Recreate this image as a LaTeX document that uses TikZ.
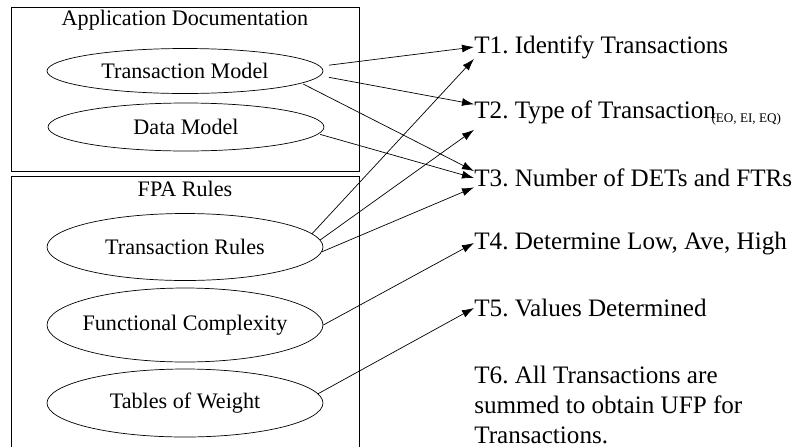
\documentclass[tikz,border=0pt]{standalone}
\usepackage{fontspec}
\setmainfont{Liberation Serif}
\usetikzlibrary{shapes.geometric,arrows.meta}

\begin{document}
\frenchspacing
\begin{tikzpicture}[x=0.02cm, y=-0.02cm, thin, font=\fontsize{12.6}{16}\selectfont,
		main/.style = {draw, ellipse, inner ysep=0pt, inner xsep=-1cm, minimum width=5.52cm},
		task/.style = {anchor=west, inner sep=0pt, font=\fontsize{14.3}{17}\selectfont},
		arr/.style = {-{Latex[length=2.4mm,width=1.6mm]}}]
		\useasboundingbox (0,0) rectangle (807,447);
		% boxes
		\draw (11,7) rectangle (359,171);
		\draw (11,447) -- (11,176) -- (359,176) -- (359,447);
		\node (doc) at (185,20) {Application Documentation};
		\node (fpa) at (185,189) {FPA Rules};
		
		\node[main, minimum height=0.9cm] (tm) at (185,71) {Transaction Model};
		\node[main, minimum height=0.96cm] (dm) at (186,127) {Data Model};
		\node[main, minimum height=1.34cm] (tr) at (185,247) {Transaction Rules};
		\node[main, minimum height=1.48cm] (fc) at (185,325) {Functional Complexity};
		\node[main, minimum height=1.36cm] (tw) at (185,403) {Tables of Weight};
		
		\node[task] (t1) at (474,47) {T1. Identify Transactions};
		\node[task] (t2) at (474,113) {T2. Type of Transaction\kern-2.5pt\raisebox{-2.5pt}{\fontsize{7.5}{8}\selectfont (EO, EI, EQ)}};
		\node[task] (t3) at (474,178) {T3. Number of DETs and FTRs};
		\node[task] (t4) at (474,243) {T4. Determine Low, Ave, High};
		\node[task] (t5) at (474,308) {T5. Values Determined};
		\node[task, anchor=north west, align=left] (t6) at (474,366) {T6. All Transactions are\\summed to obtain UFP for\\Transactions.};
		
		\draw[arr, shorten <=5pt] (tm.2) -- (t1.west);
		\draw[arr, shorten <=5pt] (tm.-2) -- ([yshift=-0.5ex]t2.north west);
		\draw[arr, shorten <=1pt] (tm.-6) -- ([yshift=-0.3ex]t3.north west);
		\draw[arr, shorten <=1pt] (dm.-3) -- (t3.west);
		\draw[arr] (tr.6) -- (t1.south west);
		\draw[arr] (tr.3) -- ([yshift=-0.5ex]t2.south west);
		\draw[arr] (tr.-2) -- (t3.south west);
		\draw[arr] (fc.east) -- (t4.west);
		\draw[arr] (tw.4) -- (t5.west);
	\end{tikzpicture}
\end{document}
